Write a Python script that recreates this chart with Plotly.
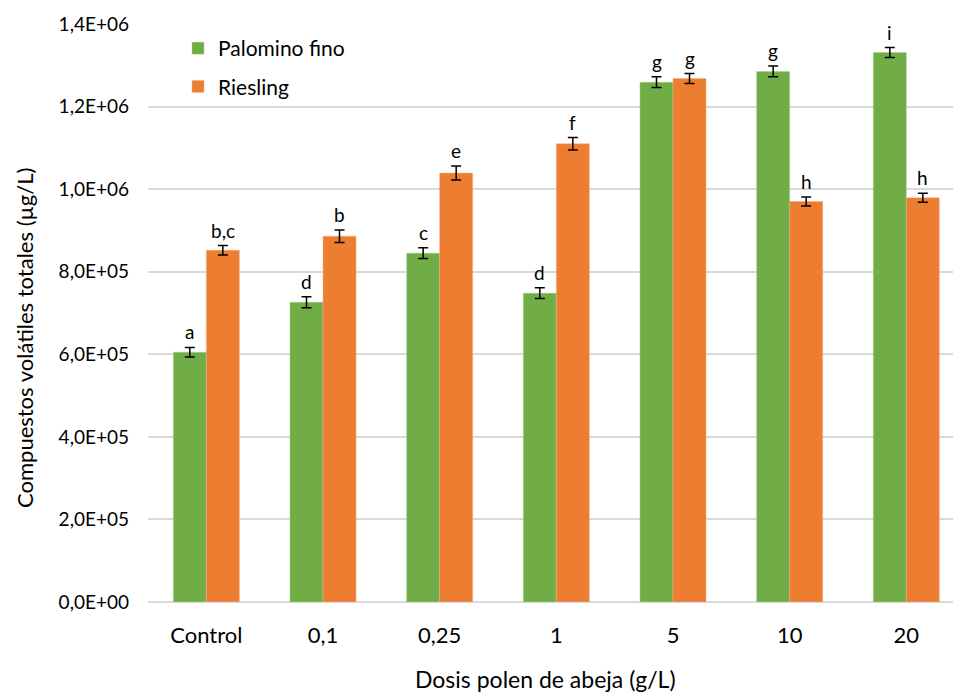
import plotly.graph_objects as go

# Bee-pollen dose categories and total volatile compounds (µg/L)
categories = ["Control", "0,1", "0,25", "1", "5", "10", "20"]
palomino = [605000, 726000, 845000, 748000, 1259000, 1285000, 1331000]
palomino_err = [11500, 13500, 13000, 13000, 13000, 13000, 12000]
palomino_labels = ["a", "d", "c", "d", "g", "g", "i"]
riesling = [852000, 886000, 1039000, 1110000, 1268000, 970000, 979000]
riesling_err = [11500, 15000, 17000, 15000, 12000, 11000, 11000]
riesling_labels = ["b,c", "b", "e", "f", "g", "h", "h"]

y_tickvals = [0, 200000, 400000, 600000, 800000, 1000000, 1200000, 1400000]
y_ticktext = ["0,0E+00", "2,0E+05", "4,0E+05", "6,0E+05", "8,0E+05",
              "1,0E+06", "1,2E+06", "1,4E+06"]

GREEN = "#70ad47"
ORANGE = "#ed7d31"
FONT = "Lato, 'Open Sans', sans-serif"

W, H = 953, 695
ML, MR, MT, MB = 148, 0, 24, 93

err_style = dict(type="data", visible=True, color="black", thickness=1.5, width=5)

fig = go.Figure()
fig.add_trace(go.Bar(
    x=categories, y=palomino, name="Palomino fino", legendgroup="p",
    marker=dict(color=GREEN, line=dict(color="#a9d18e", width=0.5)),
    error_y=dict(array=palomino_err, **err_style),
))
fig.add_trace(go.Bar(
    x=categories, y=riesling, name="Riesling", legendgroup="r",
    marker=dict(color=ORANGE, line=dict(color="#f4b183", width=0.5)),
    error_y=dict(array=riesling_err, **err_style),
))

# Significance letters above each error bar
annotations = []
for i, cat in enumerate(categories):
    for vals, errs, labs, shift in ((palomino, palomino_err, palomino_labels, -16.5),
                                    (riesling, riesling_err, riesling_labels, 16.5)):
        annotations.append(dict(
            x=i, y=vals[i] + errs[i], xref="x", yref="y",
            text=labs[i], showarrow=False, xshift=shift, yshift=2,
            yanchor="bottom", font=dict(family=FONT, size=19, color="black"),
        ))

# Axis titles, placed in paper coordinates relative to the plot area
pw, ph = W - ML - MR, H - MT - MB
annotations.append(dict(
    text="Dosis polen de abeja (g/L)", xref="paper", yref="paper",
    x=(545 - ML) / pw, y=(H - MB - 679) / ph, xanchor="center", yanchor="middle",
    showarrow=False, font=dict(family=FONT, size=23, color="black"),
))
annotations.append(dict(
    text="Compuestos volátiles totales (µg/L)", xref="paper", yref="paper",
    x=(24 - ML) / pw, y=(H - MB - 338) / ph, xanchor="center", yanchor="middle",
    textangle=-90, showarrow=False, font=dict(family=FONT, size=22, color="black"),
))

fig.update_layout(
    width=W, height=H,
    margin=dict(l=ML, r=MR, t=MT, b=MB),
    paper_bgcolor="white", plot_bgcolor="white",
    barmode="group", bargap=0.434, bargroupgap=0,
    font=dict(family=FONT, size=16, color="black"),
    annotations=annotations,
    showlegend=True,
    legend=dict(
        x=(178 - ML) / pw, y=(H - MB - 28) / ph, xanchor="left", yanchor="top",
        font=dict(family=FONT, size=21, color="black"),
        bgcolor="rgba(0,0,0,0)", tracegroupgap=8, traceorder="grouped",
        itemwidth=30,
    ),
    xaxis=dict(
        type="category", range=[-0.5, 6.4],
        showgrid=False, showline=False, ticks="", ticklabelstandoff=18,
        tickfont=dict(family=FONT, size=22, color="black"),
    ),
    yaxis=dict(
        range=[0, 1400000],
        tickvals=y_tickvals, ticktext=y_ticktext,
        showgrid=True, gridcolor="#d9d9d9", gridwidth=1.5,
        zeroline=True, zerolinecolor="#d9d9d9", zerolinewidth=1.5,
        showline=False, ticks="", ticklabelstandoff=18,
        tickfont=dict(family=FONT, size=19, color="black"),
    ),
)

fig.write_html("out.html")
